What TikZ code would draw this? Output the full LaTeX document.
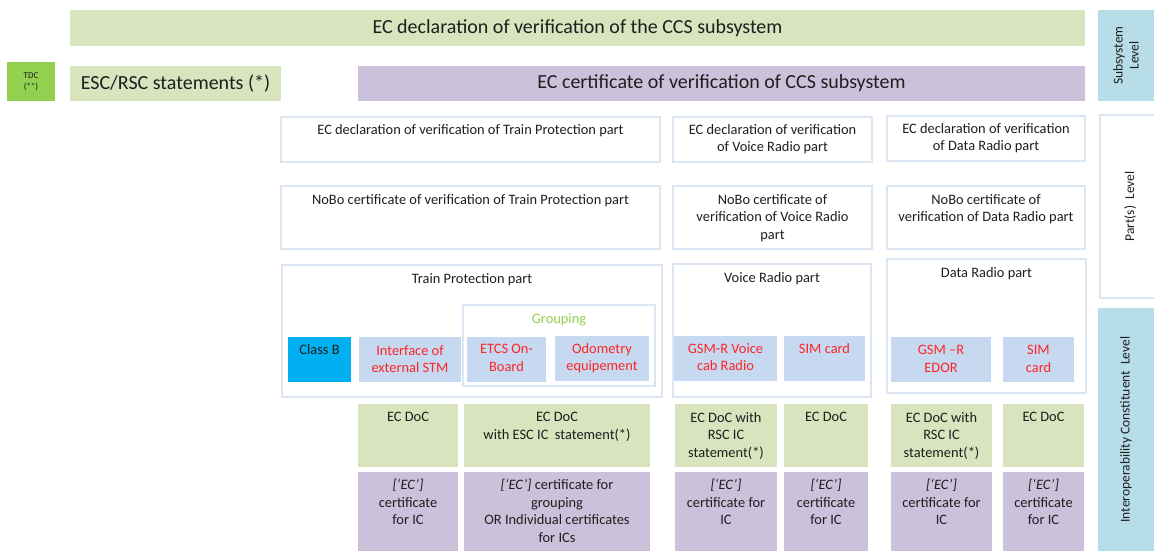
\documentclass[tikz,border=0pt]{standalone}
\usepackage{fontspec}
\setmainfont{Carlito}
\usetikzlibrary{positioning}

\definecolor{docgreen}{HTML}{D7E4BD}
\definecolor{certpurple}{HTML}{CCC1DA}
\definecolor{levelblue}{HTML}{B7DDE8}
\definecolor{icblue}{HTML}{C6D9F1}
\definecolor{classblue}{HTML}{00B0F0}
\definecolor{tdcgreen}{HTML}{92D050}
\definecolor{edgeblue}{HTML}{DCE6F2}
\definecolor{icred}{HTML}{FF2424}
\definecolor{inkgray}{HTML}{1E1E1E}

\begin{document}
\begin{tikzpicture}[x=1pt, y=-1pt,
    % Styles for the boxes (placed by their top left corner)
    cell/.style={rectangle, anchor=north west, inner sep=0pt, outer sep=0pt, align=center, text=inkgray},
    greencell/.style={cell, fill=docgreen},
    purplecell/.style={cell, fill=certpurple},
    whitecell/.style={cell, fill=white, draw=edgeblue, line width=1.2pt},
    iccell/.style={cell, fill=icblue},
    levelcell/.style={cell, fill=levelblue},
    % Styles for the texts
    bigtxt/.style={font=\fontsize{20}{24}\selectfont},
    txt/.style={inner sep=0pt, align=center, text=inkgray, font=\fontsize{14.4}{17.5}\selectfont},
    redtxt/.style={txt, text=icred},
    sidetxt/.style={txt, rotate=90, font=\fontsize{13.5}{16}\selectfont}
]
\useasboundingbox (0,0) rectangle (1154,551);

% Subsystem level
\node[greencell, bigtxt, minimum width=1015pt, minimum height=36pt] (ecsub) at (70,10) {EC declaration of verification of the CCS subsystem};
\node[cell, fill=tdcgreen, minimum width=48pt, minimum height=39pt, font=\fontsize{9}{11}\selectfont] (tdc) at (7,62) {TDC\\(**)};
\node[greencell, bigtxt, minimum width=211pt, minimum height=35pt] (escrsc) at (70,66) {ESC/RSC statements (*)};
\node[purplecell, bigtxt, minimum width=727pt, minimum height=35pt] (eccert) at (358,66) {EC certificate of verification of CCS subsystem};

% Part(s) level - declarations
\node[whitecell, minimum width=379pt, minimum height=45pt] (tpdecl) at (281,117) {};
\node[whitecell, minimum width=199pt, minimum height=45pt] (vrdecl) at (673,117) {};
\node[whitecell, minimum width=198pt, minimum height=45pt] (drdecl) at (887,116) {};
\node[txt, below=7pt of tpdecl.north] (tpdecltxt) {EC declaration of verification of Train Protection part};
\node[txt, below=7pt of vrdecl.north] (vrdecltxt) {EC declaration of verification\\of Voice Radio part};
\node[txt, below=7pt of drdecl.north] (drdecltxt) {EC declaration of verification\\of Data Radio part};

% Part(s) level - NoBo certificates
\node[whitecell, minimum width=379pt, minimum height=63pt] (tpnobo) at (281,186) {};
\node[whitecell, minimum width=199pt, minimum height=63pt] (vrnobo) at (673,186) {};
\node[whitecell, minimum width=198pt, minimum height=63pt] (drnobo) at (887,186) {};
\node[txt, below=8pt of tpnobo.north] (tpnobotxt) {NoBo certificate of verification of Train Protection part};
\node[txt, below=8pt of vrnobo.north] (vrnobotxt) {NoBo certificate of\\verification of Voice Radio\\part};
\node[txt, below=8pt of drnobo.north] (drnobotxt) {NoBo certificate of\\verification of Data Radio part};

% Parts with their constituents
\node[whitecell, minimum width=380pt, minimum height=132pt] (tppart) at (282,265) {};
\node[whitecell, minimum width=198pt, minimum height=133pt] (vrpart) at (673,264) {};
\node[whitecell, minimum width=199pt, minimum height=134pt] (drpart) at (887,259) {};
\node[txt, below=8pt of tppart.north] (tpparttxt) {Train Protection part};
\node[txt, below=8pt of vrpart.north] (vrparttxt) {Voice Radio part};
\node[txt, below=8pt of drpart.north] (drparttxt) {Data Radio part};

\node[whitecell, minimum width=192pt, minimum height=81pt] (grouping) at (463,305) {};
\node[txt, text=tdcgreen, below=8pt of grouping.north] (groupingtxt) {Grouping};

\node[cell, fill=classblue, minimum width=63pt, minimum height=45pt] (classb) at (288,337) {};
\node[iccell, minimum width=102pt, minimum height=45pt] (iface) at (359,337) {};
\node[iccell, minimum width=79pt, minimum height=45pt] (etcs) at (467,337) {};
\node[iccell, minimum width=94pt, minimum height=45pt] (odo) at (555,336) {};
\node[iccell, minimum width=103pt, minimum height=45pt] (gsmv) at (674,336) {};
\node[iccell, minimum width=81pt, minimum height=45pt] (simv) at (784,336) {};
\node[iccell, minimum width=100pt, minimum height=45pt] (edor) at (891,337) {};
\node[iccell, minimum width=71pt, minimum height=45pt] (simd) at (1003,337) {};

\node[txt, below=7pt of classb.north] (classbtxt) {Class B};
\node[redtxt, below=8pt of iface.north] (ifacetxt) {Interface of\\external STM};
\node[redtxt, below=7pt of etcs.north] (etcstxt) {ETCS On-\\Board};
\node[redtxt, below=7pt of odo.north] (odotxt) {Odometry\\equipement};
\node[redtxt, below=7pt of gsmv.north] (gsmvtxt) {GSM-R Voice\\cab Radio};
\node[redtxt, below=7pt of simv.north] (simvtxt) {SIM card};
\node[redtxt, below=8pt of edor.north] (edortxt) {GSM {\textendash}R\\EDOR};
\node[redtxt, below=8pt of simd.north] (simdtxt) {SIM\\card};

% Interoperability constituent level - EC DoC
\node[greencell, minimum width=100pt, minimum height=63pt] (tpdoca) at (358,404) {};
\node[greencell, minimum width=186pt, minimum height=63pt] (tpdocb) at (464,404) {};
\node[greencell, minimum width=102pt, minimum height=63pt] (vrdoca) at (675,404) {};
\node[greencell, minimum width=84pt, minimum height=63pt] (vrdocb) at (784,404) {};
\node[greencell, minimum width=101pt, minimum height=63pt] (drdoca) at (891,404) {};
\node[greencell, minimum width=81pt, minimum height=63pt] (drdocb) at (1003,404) {};
\node[txt, below=8pt of tpdoca.north] (tpdocatxt) {EC DoC};
\node[txt, below=8pt of tpdocb.north] (tpdocbtxt) {EC DoC\\with ESC IC\ \ statement(*)};
\node[txt, below=8pt of vrdoca.north] (vrdocatxt) {EC DoC with\\RSC IC\\statement(*)};
\node[txt, below=8pt of vrdocb.north] (vrdocbtxt) {EC DoC};
\node[txt, below=8pt of drdoca.north] (drdocatxt) {EC DoC with\\RSC IC\\statement(*)};
\node[txt, below=8pt of drdocb.north] (drdocbtxt) {EC DoC};

% Interoperability constituent level - certificates
\node[purplecell, minimum width=100pt, minimum height=79pt] (tpcerta) at (358,472) {};
\node[purplecell, minimum width=186pt, minimum height=79pt] (tpcertb) at (464,472) {};
\node[purplecell, minimum width=102pt, minimum height=79pt] (vrcerta) at (675,472) {};
\node[purplecell, minimum width=84pt, minimum height=79pt] (vrcertb) at (784,472) {};
\node[purplecell, minimum width=101pt, minimum height=79pt] (drcerta) at (891,472) {};
\node[purplecell, minimum width=81pt, minimum height=79pt] (drcertb) at (1003,472) {};
\node[txt, below=7pt of tpcerta.north] (tpcertatxt) {\textit{[`EC']}\\certificate\\for IC};
\node[txt, below=7pt of tpcertb.north] (tpcertbtxt) {\textit{[`EC']} certificate for\\grouping\\OR Individual certificates\\for ICs};
\node[txt, below=7pt of vrcerta.north] (vrcertatxt) {\textit{[`EC']}\\certificate for\\IC};
\node[txt, below=7pt of vrcertb.north] (vrcertbtxt) {\textit{[`EC']}\\certificate\\for IC};
\node[txt, below=7pt of drcerta.north] (drcertatxt) {\textit{[`EC']}\\certificate for\\IC};
\node[txt, below=7pt of drcertb.north] (drcertbtxt) {\textit{[`EC']}\\certificate\\for IC};

% Level column on the right
\node[levelcell, minimum width=56pt, minimum height=91pt] (sidesub) at (1098,10) {};
\node[whitecell, minimum width=60pt, minimum height=183pt] (sidepart) at (1100,115) {};
\node[levelcell, minimum width=56pt, minimum height=243pt] (sideic) at (1098,308) {};
\node[sidetxt] (sidesubtxt) at (sidesub.center) {Subsystem\\Level};
\node[sidetxt] (sideparttxt) at (sidepart.center) {Part(s)\ \ Level};
\node[sidetxt] (sideictxt) at (sideic.center) {Interoperability Constituent\ \ Level};

\end{tikzpicture}
\end{document}
